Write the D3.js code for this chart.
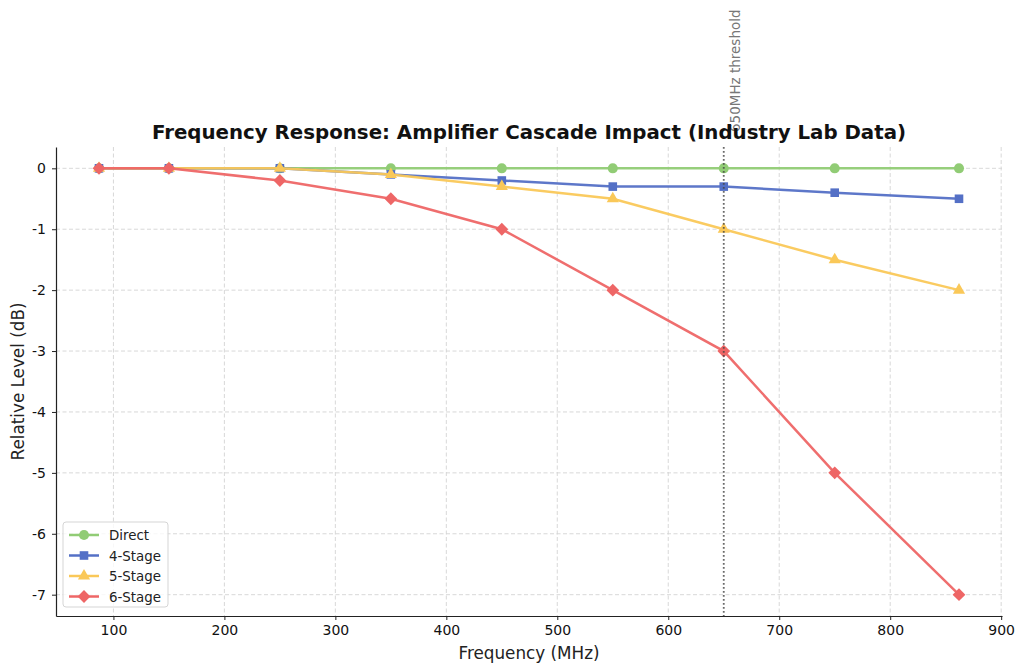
<!DOCTYPE html>
<html>
<head>
<meta charset="utf-8">
<script src="https://cdn.jsdelivr.net/npm/d3@7"></script>
<style>
  body { margin: 0; background: #fff; }
  text { font-family: "DejaVu Sans", sans-serif; }
</style>
</head>
<body>
<svg width="1024" height="672"></svg>
<script>
// data
const freqs = [87, 150, 250, 350, 450, 550, 650, 750, 862];
const direct = [0, 0, 0, 0, 0, 0, 0, 0, 0];
const stage4 = [0, 0, 0, -0.1, -0.2, -0.3, -0.3, -0.4, -0.5];
const stage5 = [0, 0, 0, -0.1, -0.3, -0.5, -1, -1.5, -2];
const stage6 = [0, 0, -0.2, -0.5, -1, -2, -3, -5, -7];
const xTicks = [100, 200, 300, 400, 500, 600, 700, 800, 900];
const yTicks = [0, -1, -2, -3, -4, -5, -6, -7];
const thresholdFreq = 650;

const seriesList = [
  { name: "Direct", values: direct, color: "#91cc75", marker: "circle" },
  { name: "4-Stage", values: stage4, color: "#5470c6", marker: "square" },
  { name: "5-Stage", values: stage5, color: "#fac858", marker: "triangle" },
  { name: "6-Stage", values: stage6, color: "#ee6666", marker: "diamond" }
];

function markerPath(kind) {
  if (kind === "circle") return d3.symbol().type(d3.symbolCircle).size(80)();
  if (kind === "square") return d3.symbol().type(d3.symbolSquare).size(74)();
  if (kind === "triangle") return d3.symbol().type(d3.symbolTriangle).size(64)();
  return d3.symbol().type(d3.symbolSquare).size(82)(); // rotated later -> diamond
}
function markerTransform(kind, px, py) {
  return "translate(" + px + "," + py + ")" + (kind === "diamond" ? " rotate(45)" : "");
}

const svg = d3.select("svg");
const plotLeft = 56, plotRight = 1002, plotTop = 147, plotBottom = 616;

var x = d3.scaleLinear().domain([48.25, 900.75]).range([plotLeft, plotRight]);
var y = d3.scaleLinear().domain([-7.35, 0.35]).range([plotBottom, plotTop]);

// grid
const grid = svg.append("g").attr("stroke", "#d4d4d4").attr("stroke-dasharray", "4,2.5").attr("stroke-width", 0.9);
xTicks.forEach(function (t) {
  grid.append("line").attr("x1", x(t)).attr("x2", x(t)).attr("y1", plotTop).attr("y2", plotBottom);
});
yTicks.forEach(function (t) {
  grid.append("line").attr("x1", plotLeft).attr("x2", plotRight).attr("y1", y(t)).attr("y2", y(t));
});

// threshold label (drawn before title so the title sits over it)
svg.append("text")
  .attr("transform", "translate(" + (x(thresholdFreq) + 16) + ",132) rotate(-90)")
  .attr("font-size", 13.5).attr("fill", "#777")
  .text("650MHz threshold");

// axes
const xAxis = svg.append("g").attr("transform", "translate(0," + plotBottom + ")")
  .call(d3.axisBottom(x).tickValues(xTicks).tickSize(4).tickSizeOuter(0).tickPadding(5));
const yAxis = svg.append("g").attr("transform", "translate(" + plotLeft + ",0)")
  .call(d3.axisLeft(y).tickValues(yTicks).tickSize(4).tickSizeOuter(0).tickPadding(6)
    .tickFormat(function (d) { return d === 0 ? "0" : "-" + Math.abs(d); }));
[xAxis, yAxis].forEach(function (a) {
  a.selectAll("text").attr("font-size", 14).attr("fill", "#111").style("font-family", "DejaVu Sans");
  a.select(".domain").attr("stroke", "#222").attr("stroke-width", 1.2);
  a.selectAll(".tick line").attr("stroke", "#222");
});

// lines and markers
var line = d3.line().x(function (d, i) { return x(freqs[i]); }).y(function (d) { return y(d); });
seriesList.forEach(function (s) {
  svg.append("path").datum(s.values)
    .attr("d", line).attr("fill", "none")
    .attr("stroke", s.color).attr("stroke-width", 2.5).attr("opacity", 0.95);
  svg.append("g").selectAll("path").data(s.values).join("path")
    .attr("transform", function (d, i) { return markerTransform(s.marker, x(freqs[i]), y(d)); })
    .attr("d", markerPath(s.marker))
    .attr("fill", s.color);
});

// threshold line on top of the series
svg.append("line")
  .attr("x1", x(thresholdFreq)).attr("x2", x(thresholdFreq))
  .attr("y1", plotTop).attr("y2", plotBottom)
  .attr("stroke", "#444").attr("stroke-width", 1.8)
  .attr("stroke-dasharray", "1.8,2.2").attr("opacity", 0.8);

// title & axis labels
svg.append("text").attr("x", (plotLeft + plotRight) / 2).attr("y", 139)
  .attr("text-anchor", "middle").attr("font-size", 19.8).attr("font-weight", "bold").attr("fill", "#111")
  .text("Frequency Response: Amplifier Cascade Impact (Industry Lab Data)");
svg.append("text").attr("x", (plotLeft + plotRight) / 2).attr("y", 659)
  .attr("text-anchor", "middle").attr("font-size", 16.8).attr("fill", "#222")
  .text("Frequency (MHz)");
svg.append("text").attr("transform", "translate(24," + ((plotTop + plotBottom) / 2) + ") rotate(-90)")
  .attr("text-anchor", "middle").attr("font-size", 16.8).attr("fill", "#222")
  .text("Relative Level (dB)");

// legend
const legend = svg.append("g").attr("transform", "translate(63,522)");
legend.append("rect").attr("width", 105).attr("height", 85).attr("rx", 3)
  .attr("fill", "#fff").attr("fill-opacity", 0.8).attr("stroke", "#d5d5d5");
seriesList.forEach(function (s, i) {
  const g = legend.append("g").attr("transform", "translate(0," + (13 + i * 20.5) + ")");
  g.append("line").attr("x1", 6).attr("x2", 36).attr("stroke", s.color).attr("stroke-width", 2.5);
  g.append("path").attr("transform", markerTransform(s.marker, 21, 0))
    .attr("d", markerPath(s.marker))
    .attr("fill", s.color);
  g.append("text").attr("x", 46).attr("y", 5).attr("font-size", 13.4).attr("fill", "#222").text(s.name);
});
</script>
</body>
</html>
